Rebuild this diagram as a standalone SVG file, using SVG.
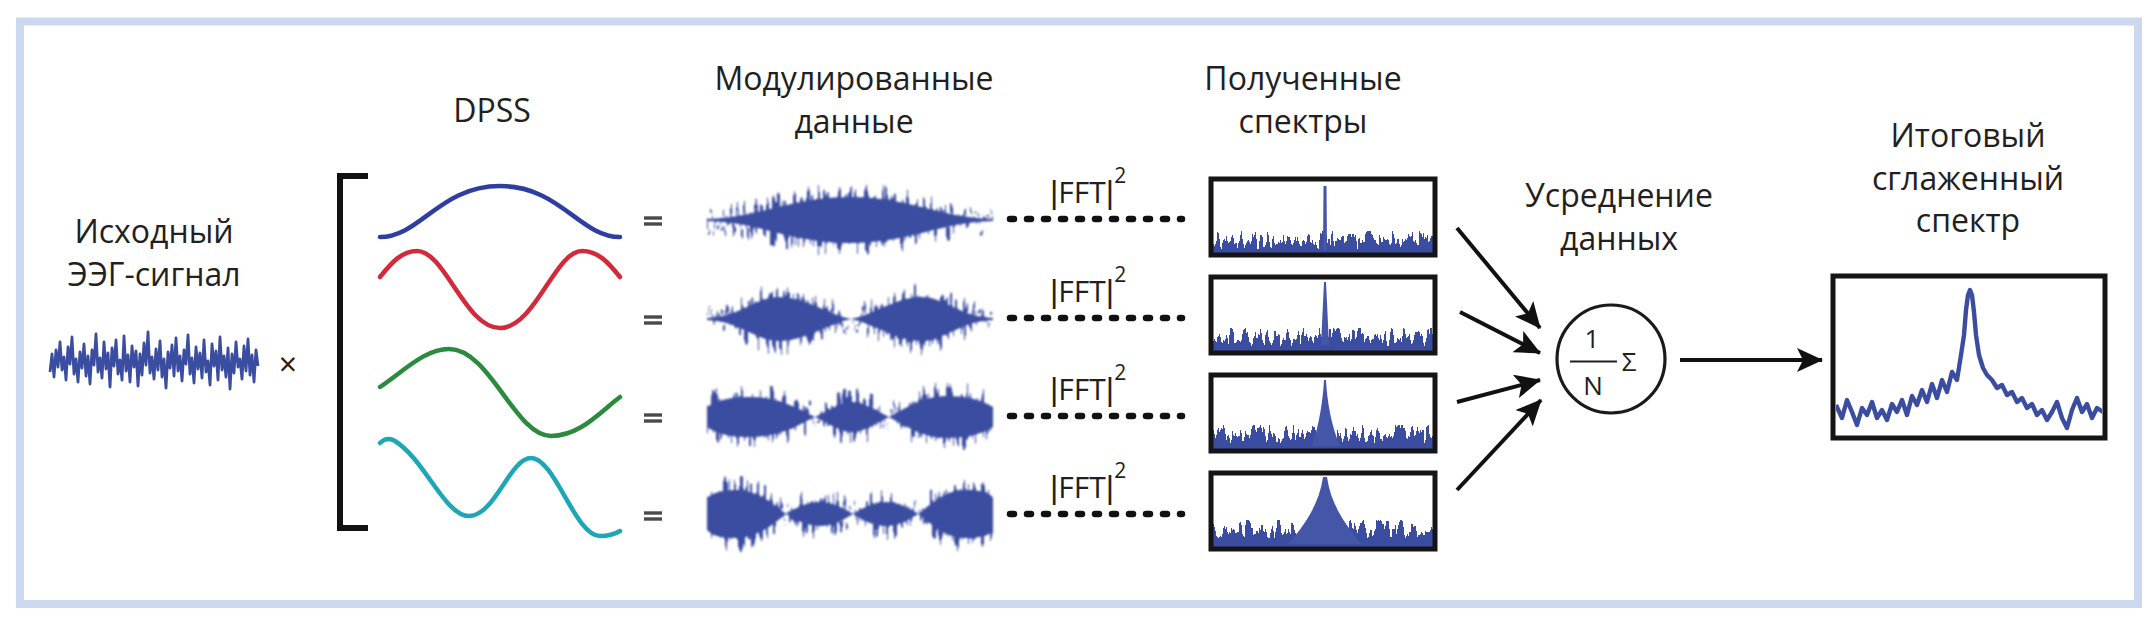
<svg xmlns="http://www.w3.org/2000/svg" width="2155" height="626" viewBox="0 0 2155 626">
<style>
.t{font-family:"Open Sans","Noto Sans",sans-serif;font-size:32px;fill:#231f20;text-anchor:middle}
.f{font-family:"Open Sans","Noto Sans",sans-serif;font-size:30px;fill:#231f20}
.bar{font-family:"Liberation Sans",Arial,sans-serif;font-size:32px}
.m{font-family:"Open Sans","Noto Sans",sans-serif;font-size:26px;fill:#231f20;text-anchor:middle}
.sig{fill:#3b4da0}
.box{fill:none;stroke:#151515;stroke-width:5}
.conn{stroke:#111;stroke-width:4;fill:none}
.eq{stroke:#4a4a4a;stroke-width:3.4}
.dots{stroke:#111;stroke-width:6.5;stroke-linecap:round;stroke-dasharray:4 13;fill:none}
</style>
<defs>
<marker id="ah" markerUnits="userSpaceOnUse" markerWidth="26" markerHeight="24" refX="25" refY="12" orient="auto">
<path d="M0,0 L26,12 L0,24 L6,12 Z" fill="#111"/>
</marker>
<filter id="jag" filterUnits="userSpaceOnUse" x="690" y="150" width="330" height="420" color-interpolation-filters="sRGB">
<feTurbulence type="fractalNoise" baseFrequency="0.3 0.014" numOctaves="2" seed="7" result="n"/>
<feColorMatrix in="n" type="matrix" values="0 0 0 0 0.5  0 2.3 0 0 -0.65  0 0 0 0 0  0 0 0 0 1" result="d"/>
<feDisplacementMap in="SourceGraphic" in2="d" scale="28" xChannelSelector="R" yChannelSelector="G" result="dm"/>
<feMerge><feMergeNode in="dm"/><feMergeNode in="SourceGraphic"/></feMerge>
<feGaussianBlur stdDeviation="0.8"/>
</filter>
<filter id="jag2" filterUnits="userSpaceOnUse" x="1200" y="170" width="250" height="400" color-interpolation-filters="sRGB">
<feTurbulence type="fractalNoise" baseFrequency="0.3 0.02" numOctaves="2" seed="3" result="n"/>
<feColorMatrix in="n" type="matrix" values="0 0 0 0 0.5  0 2.3 0 0 -0.65  0 0 0 0 0  0 0 0 0 1" result="d"/>
<feDisplacementMap in="SourceGraphic" in2="d" scale="18" xChannelSelector="R" yChannelSelector="G"/>
<feGaussianBlur stdDeviation="0.6"/>
</filter>
<filter id="soft" x="-5%" y="-10%" width="110%" height="120%">
<feGaussianBlur stdDeviation="0.7"/>
</filter>
<clipPath id="c1"><rect x="1213" y="181" width="220" height="72"/></clipPath>
<clipPath id="c2"><rect x="1213" y="279" width="220" height="72"/></clipPath>
<clipPath id="c3"><rect x="1213" y="377" width="220" height="72"/></clipPath>
<clipPath id="c4"><rect x="1213" y="475" width="220" height="72"/></clipPath>
<clipPath id="c5"><rect x="1836" y="279" width="266" height="157"/></clipPath>
</defs>

<rect id="frame" x="20" y="21.5" width="2118" height="582.5" fill="none" stroke="#ccd8ef" stroke-width="8"/>

<g id="eeg">
<text class="t" x="154" y="243">Исходный</text>
<text class="t" x="154" y="286">ЭЭГ-сигнал</text>
<polyline filter="url(#soft)" fill="none" stroke="#3b4da0" stroke-width="2.8" stroke-linejoin="round" points="50,372 52,354 54,377 56,350 58,367 60,342 62,370 64,357 66,380 68,347 70,364 72,337 74,374 76,359 78,382 80,352 82,368 84,344 86,376 88,356 90,384 92,350 94,365 96,334 98,372 100,358 102,378 104,342 106,369 108,353 110,387 112,348 114,366 116,340 118,374 120,360 122,380 124,336 126,371 128,355 130,382 132,346 134,367 136,351 138,386 140,354 142,375 144,343 146,365 148,332 150,373 152,357 154,379 156,349 158,370 160,341 162,377 164,359 166,388 168,352 170,368 172,345 174,376 176,338 178,371 180,356 182,381 184,350 186,364 188,335 190,374 192,358 194,383 196,347 198,369 200,353 202,378 204,340 206,372 208,361 210,385 212,344 214,366 216,351 218,380 220,337 222,370 224,356 226,377 228,348 230,389 232,354 234,373 236,342 238,367 240,359 242,379 244,346 246,371 248,339 250,375 252,355 254,382 256,350 258,366"/>
<text x="288" y="376" font-family="Open Sans, sans-serif" font-size="32" fill="#231f20" text-anchor="middle">×</text>
</g>

<g id="dpss">
<text class="t" x="492" y="122">DPSS</text>
<path d="M368,176 L340,176 L340,528 L368,528" fill="none" stroke="#111" stroke-width="6"/>
<g fill="none" stroke-width="4.5" stroke-linecap="round" filter="url(#soft)">
<path stroke="#2f3ea0" d="M380,237 C420,237 440,186 500,186 C560,186 580,237 620,237"/>
<path stroke="#d22a3a" d="M380,277 C392,262 402,251 417,251 C445,251 465,328 500,328 C535,328 555,251 582,251 C598,251 608,262 620,277"/>
<path stroke="#2b8a3c" d="M380,387 C405,370 425,349 449,349 C490,349 515,436 551,436 C580,436 600,412 620,397"/>
<path stroke="#1ea6b6" d="M380,443 C385,438 390,438 395,441 C425,460 445,516 469,516 C495,516 510,458 531,458 C555,458 575,536 600,536 C610,536 615,534 620,531"/>
</g>
<g class="eq">
<line x1="644" y1="218" x2="662" y2="218"/><line x1="644" y1="224" x2="662" y2="224"/>
<line x1="644" y1="317" x2="662" y2="317"/><line x1="644" y1="323" x2="662" y2="323"/>
<line x1="644" y1="415" x2="662" y2="415"/><line x1="644" y1="421" x2="662" y2="421"/>
<line x1="644" y1="513" x2="662" y2="513"/><line x1="644" y1="519" x2="662" y2="519"/>
</g>
</g>

<g id="modulated">
<text class="t" x="854" y="90">Модулированные</text>
<text class="t" x="854" y="133">данные</text>
<g class="sig" filter="url(#jag)">
<path d="M707,219 C760,218 790,197 850,197 C910,197 940,218 993,219 L993,221 C940,222 910,243 850,243 C790,243 760,222 707,221 Z"/>
<path d="M707,318 C740,317 755,297 779,297 C805,297 830,315 851,319 C872,315 897,297 921,297 C945,297 960,317 993,318 L993,320 C960,321 945,341 921,341 C897,341 872,323 851,319 C830,323 805,341 779,341 C755,341 740,321 707,320 Z"/>
<path d="M707,407 C720,398 735,397 752,397 C780,397 800,410 815,417 C830,410 840,402 852,402 C864,402 875,410 889,417 C905,408 925,396 945,396 C965,396 980,399 993,407 L993,427 C980,435 965,438 945,438 C925,438 905,426 889,417 C875,424 864,432 852,432 C840,432 830,424 815,417 C800,424 780,437 752,437 C735,437 720,436 707,427 Z"/>
<path d="M707,498 C715,491 725,490 740,490 C760,492 775,505 786,514 C798,506 810,502 820,502 C832,502 842,507 853,514 C864,507 874,502 886,502 C897,502 908,507 918,514 C930,505 945,490 965,490 C980,490 990,492 993,498 L993,530 C990,536 980,538 965,538 C945,538 930,523 918,514 C908,521 897,526 886,526 C874,526 864,521 853,514 C842,521 832,526 820,526 C810,526 798,522 786,514 C775,523 760,536 740,538 C725,538 715,538 707,530 Z"/>
</g>
</g>

<g id="fft-labels">
<text class="f" x="1050" y="203"><tspan class="bar">|</tspan>FFT<tspan class="bar">|</tspan><tspan dy="-20" font-size="21">2</tspan></text>
<text class="f" x="1050" y="302"><tspan class="bar">|</tspan>FFT<tspan class="bar">|</tspan><tspan dy="-20" font-size="21">2</tspan></text>
<text class="f" x="1050" y="400"><tspan class="bar">|</tspan>FFT<tspan class="bar">|</tspan><tspan dy="-20" font-size="21">2</tspan></text>
<text class="f" x="1050" y="498"><tspan class="bar">|</tspan>FFT<tspan class="bar">|</tspan><tspan dy="-20" font-size="21">2</tspan></text>
</g>

<g id="connectors">
<line class="dots" x1="1010" y1="219" x2="1182" y2="219"/>
<line class="dots" x1="1010" y1="318" x2="1182" y2="318"/>
<line class="dots" x1="1010" y1="416" x2="1182" y2="416"/>
<line class="dots" x1="1010" y1="514" x2="1182" y2="514"/>
<line class="conn" x1="1457" y1="228" x2="1540" y2="328" marker-end="url(#ah)"/>
<line class="conn" x1="1460" y1="312" x2="1540" y2="353" marker-end="url(#ah)"/>
<line class="conn" x1="1457" y1="402" x2="1540" y2="380" marker-end="url(#ah)"/>
<line class="conn" x1="1457" y1="490" x2="1541" y2="400" marker-end="url(#ah)"/>
<line class="conn" x1="1680" y1="360" x2="1822" y2="360" stroke-width="4.5" marker-end="url(#ah)"/>
</g>

<g id="spectra">
<text class="t" x="1303" y="90">Полученные</text>
<text class="t" x="1303" y="133">спектры</text>
<g clip-path="url(#c1)"><rect class="sig" x="1211" y="240" width="224" height="30" filter="url(#jag2)"/></g>
<g clip-path="url(#c2)"><rect class="sig" x="1211" y="337" width="224" height="30" filter="url(#jag2)"/></g>
<g clip-path="url(#c3)"><rect class="sig" x="1211" y="434" width="224" height="30" filter="url(#jag2)"/></g>
<g clip-path="url(#c4)"><rect class="sig" x="1211" y="529" width="224" height="30" filter="url(#jag2)"/></g>
<g fill="#4456a8" filter="url(#soft)">
<path d="M1323,250 L1323.5,186 L1326.5,186 L1327,250 Z"/>
<path d="M1321,345 L1324,282 L1326,282 L1329,345 Z"/>
<path d="M1312,446 C1319,425 1323,400 1324,380 L1326,380 C1327,400 1331,425 1340,446 Z"/>
<path d="M1288,544 C1308,522 1320,500 1323,477 L1327,477 C1330,500 1342,522 1362,544 Z"/>
</g>
<rect class="box" x="1211" y="179" width="224" height="76"/>
<rect class="box" x="1211" y="277" width="224" height="76"/>
<rect class="box" x="1211" y="375" width="224" height="76"/>
<rect class="box" x="1211" y="473" width="224" height="76"/>
</g>

<g id="average">
<text class="t" x="1619" y="207">Усреднение</text>
<text class="t" x="1619" y="250">данных</text>
<circle cx="1611" cy="359" r="54" fill="none" stroke="#1a1a1a" stroke-width="3.2"/>
<text class="m" x="1592" y="348">1</text>
<line x1="1570" y1="361.5" x2="1617" y2="361.5" stroke="#231f20" stroke-width="2"/>
<text class="m" x="1593" y="395">N</text>
<text class="m" x="1629" y="371">Σ</text>
</g>

<g id="result">
<text class="t" x="1968" y="147">Итоговый</text>
<text class="t" x="1968" y="190">сглаженный</text>
<text class="t" x="1968" y="232">спектр</text>
<g clip-path="url(#c5)">
<polyline filter="url(#soft)" fill="none" stroke="#3b4da0" stroke-width="4.4" stroke-linejoin="round" points="1836,405 1842,418 1847,400 1852,412 1857,425 1862,408 1867,415 1872,402 1877,418 1882,410 1887,420 1892,404 1897,412 1902,400 1907,415 1912,396 1917,405 1922,390 1927,402 1932,384 1937,398 1942,380 1947,392 1952,372 1957,380 1961,355 1964,335 1966,310 1968,295 1970,290 1972,295 1974,312 1976,335 1979,355 1983,368 1987,375 1992,380 1997,388 2002,385 2007,395 2012,392 2017,402 2022,398 2027,408 2032,404 2037,415 2042,410 2047,420 2052,412 2057,402 2062,418 2067,428 2072,410 2077,398 2082,412 2087,404 2092,418 2097,408 2103,412"/>
</g>
<rect class="box" x="1833" y="276" width="272" height="162"/>
</g>
</svg>
